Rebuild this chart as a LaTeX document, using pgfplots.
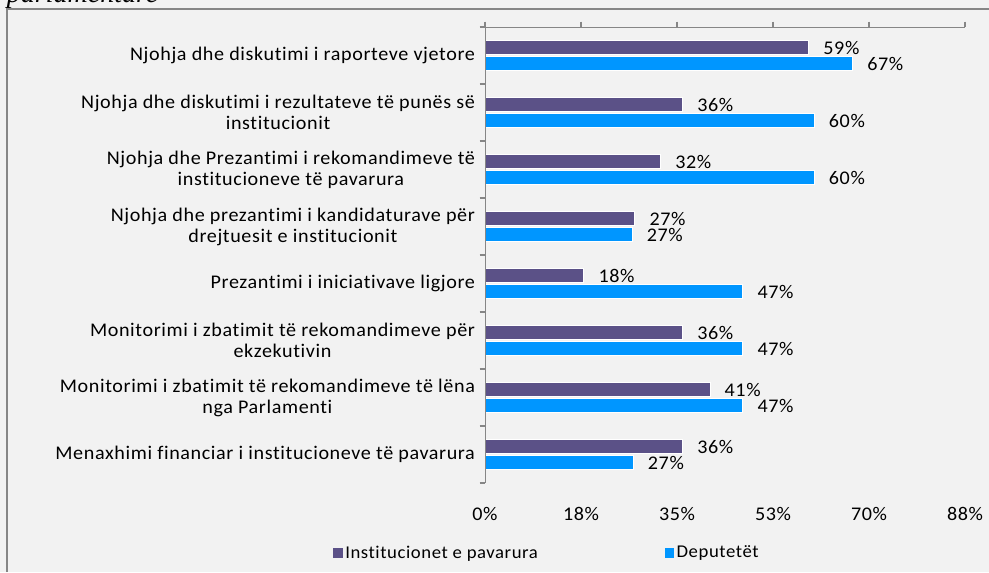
\documentclass[border=0pt]{standalone}
\usepackage{fontspec}
\setmainfont{Carlito}[FakeStretch=1.04, LetterSpace=3.2, Ligatures={NoCommon}]
\newfontfamily\titlefont{Liberation Serif}
\usepackage{pgfplots}
\usepackage{pgfplotstable}
\pgfplotsset{compat=1.18}
\definecolor{purp}{RGB}{91,81,135}
\definecolor{blu}{RGB}{0,150,255}
\definecolor{bg}{RGB}{242,242,242}
\definecolor{framegray}{RGB}{134,134,134}

\pgfplotstableread{
cat inst dep
1 59 67
2 36 60
3 32 60
4 27.3 26.8
5 18 47
6 36 47
7 41 47
8 36 27
}\data

\begin{document}
\begin{tikzpicture}
\path[use as bounding box, fill=bg] (0,0) rectangle (741.75pt,429pt);
\draw[framegray, line width=1.5pt] (5.25pt,0) -- (5.25pt,422.25pt) -- (741.75pt,422.25pt);
\node[anchor=base west, font=\titlefont\itshape\fontsize{21}{25}\selectfont, inner sep=0pt] at (5pt,426.75pt) {parlamentare};
\begin{axis}[
  at={(363.75pt,66.75pt)}, anchor=south west,
  scale only axis, width=360pt, height=342pt,
  xbar, bar width=10.5pt,
  xmin=0, xmax=87.5, ymin=0.5, ymax=8.5, y dir=reverse,
  axis line style={draw=none},
  xtick={0,17.5,35,52.5,70,87.5},
  xticklabels={0\%,18\%,35\%,53\%,70\%,88\%},
  xtick pos=right, xticklabel pos=left,
  xticklabel style={yshift=-10.5pt},
  ytick={1,...,8},
  minor ytick={0.5,...,8.5},
  ytick pos=left,
  major y tick style={draw=none},
  minor y tick style={draw=framegray, line width=1.5pt},
  major x tick style={draw=framegray, line width=1.5pt},
  tick align=outside, major tick length=4pt, minor tick length=4pt,
  yticklabels={
    Njohja dhe diskutimi i raporteve vjetore,
    {Njohja dhe diskutimi i rezultateve të punës së\\institucionit},
    {Njohja dhe Prezantimi i rekomandimeve të\\institucioneve të pavarura},
    {Njohja dhe prezantimi i kandidaturave për\\drejtuesit e institucionit},
    Prezantimi i iniciativave ligjore,
    {Monitorimi i zbatimit të rekomandimeve për\\ekzekutivin},
    {Monitorimi i zbatimit të rekomandimeve të lëna\\nga Parlamenti},
    Menaxhimi financiar i institucioneve të pavarura},
  yticklabel style={align=center},
  tick label style={font=\fontsize{14.5}{15.75}\selectfont},
  /pgf/number format/assume math mode=true,
  nodes near coords={\pgfmathprintnumber[fixed,precision=0]{\pgfplotspointmeta}\%},
  nodes near coords style={anchor=west, xshift=7.5pt, font=\fontsize{14.5}{15.75}\selectfont, black},
  legend columns=2,
  legend style={draw=none, fill=none, at={(axis description cs:-0.3167,-0.1535)}, anchor=west,
    inner sep=0pt, font=\fontsize{13.5}{15.75}\selectfont,
    /tikz/every even column/.append style={column sep=93pt}},
  legend image code/.code={\fill[#1, draw=none] (0pt,-3.5pt) rectangle (7pt,3.5pt);},
]
\addplot[draw=white, line width=0.5pt, fill=purp, bar shift=6pt] table[x=inst, y=cat] {\data};
\addplot[draw=white, line width=0.5pt, fill=blu, bar shift=-6pt] table[x=dep, y=cat] {\data};
\legend{Institucionet e pavarura, Deputetët}
\draw[framegray, line width=1.5pt] (axis description cs:0,0) -- (axis description cs:0,1) -- (axis description cs:1,1);
\end{axis}
\end{tikzpicture}
\end{document}
